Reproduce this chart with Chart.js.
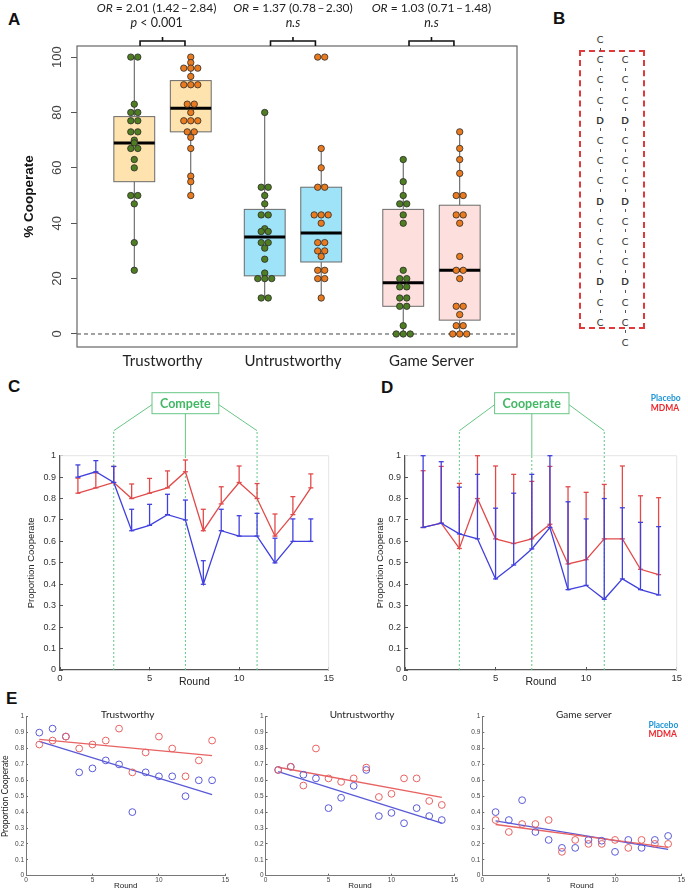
<!DOCTYPE html>
<html>
<head>
<meta charset="utf-8">
<script src="https://cdn.jsdelivr.net/npm/chart.js@4.4.0/dist/chart.umd.min.js"></script>
<style>
body { margin:0; width:688px; height:891px; background:#fff; position:relative; overflow:hidden; }
canvas { position:absolute; }
.plbl { position:absolute; font:bold 17px 'Liberation Sans', Arial, sans-serif; color:#111; }
</style>
</head>
<body>
<div class="plbl" style="left:8px;top:10px">A</div>
<div class="plbl" style="left:553px;top:9px">B</div>
<div class="plbl" style="left:8px;top:377px">C</div>
<div class="plbl" style="left:381px;top:378px">D</div>
<div class="plbl" style="left:6px;top:689px">E</div>
<canvas id="chartA" width="530" height="375" style="left:0;top:0"></canvas>
<canvas id="chartC" width="340" height="320" style="left:0;top:370px"></canvas>
<canvas id="chartD" width="348" height="320" style="left:340px;top:370px"></canvas>
<canvas id="chartE1" width="232" height="191" style="left:0;top:700px"></canvas>
<canvas id="chartE2" width="232" height="191" style="left:229px;top:700px"></canvas>
<canvas id="chartE3" width="230" height="191" style="left:458px;top:700px"></canvas>
<script>
// ---- panel A data (% cooperate per participant) ----
var groupNames = ["Trustworthy", "Untrustworthy", "Game Server"];
var placeboTrust = [100,100,83,80,80,77,77,73,73,70,69,67,67,63,60,50,50,47,33,23];
var mdmaTrust = [100,98,96,96,96,93,90,90,90,83,83,80,77,77,77,73,73,71,67,57,55,50];
var placeboUntrust = [80,53,53,50,47,43,43,38,37,37,33,33,31,27,22,20,20,20,13,13];
var mdmaUntrust = [100,100,67,60,53,53,43,43,43,40,33,33,30,30,28,23,23,20,20,13];
var placeboGame = [63,55,50,47,47,43,40,23,20,20,17,17,13,13,10,10,3,0,0,0];
var mdmaGame = [73,67,63,58,50,50,43,43,40,28,23,23,20,10,10,7,3,3,0,0,0];
// box stats: placebo/mdma for each group
var boxLo = [23, 50, 13, 13, 0, 0];
var boxQ1 = [55, 73, 21, 26, 10, 5];
var boxMed = [69, 81.5, 35, 36.5, 18.5, 23];
var boxQ3 = [78.5, 91.5, 45, 53, 45, 46.5];
var boxHi = [100, 100, 80, 67, 63, 73];
var yTicksA = [0, 20, 40, 60, 80, 100];
var orTexts = ["2.01 (1.42\u2009\u2013\u20092.84)", "1.37 (0.78\u2009\u2013\u20092.30)", "1.03 (0.71\u2009\u2013\u20091.48)"];
var sigTexts = [[["p", true], [" < 0.001", false]], [["n.s", true]], [["n.s", true]]];

// ---- panels C/D/E data (proportion cooperate per round) ----
var rounds = [1,2,3,4,5,6,7,8,9,10,11,12,13,14];
var phaseRounds = [3, 7, 11];
var roundTicks = [0, 5, 10, 15];
var propTicks = [0, 0.1, 0.2, 0.3, 0.4, 0.5, 0.6, 0.7, 0.8, 0.9, 1];

var trustBlue = [0.9,0.925,0.875,0.65,0.675,0.725,0.7,0.4,0.65,0.625,0.625,0.5,0.6,0.6];
var trustBlueUp = [0.957,0.977,0.95,0.75,0.773,0.82,0.793,0.51,0.75,0.72,0.731,0.615,0.705,0.705];
var trustRed = [0.825,0.85,0.875,0.8,0.825,0.85,0.925,0.65,0.775,0.875,0.8,0.625,0.725,0.85];
var trustRedUp = [0.895,0.92,0.95,0.868,0.894,0.929,0.98,0.75,0.855,0.952,0.87,0.728,0.809,0.915];

var untrustBlue = [0.665,0.685,0.635,0.612,0.425,0.49,0.565,0.665,0.375,0.395,0.33,0.425,0.375,0.35];
var untrustBlueUp = [1.0,0.972,0.853,0.913,0.755,0.825,0.913,1.0,0.785,0.705,0.8,0.757,0.689,0.669];
var untrustRed = [0.665,0.685,0.567,0.8,0.612,0.59,0.612,0.68,0.495,0.515,0.612,0.612,0.47,0.445];
var untrustRedUp = [0.93,0.95,0.871,1.0,0.952,0.913,0.88,0.95,0.855,0.829,0.866,0.952,0.813,0.804];

var gameBlue = [0.4,0.35,0.475,0.275,0.225,0.175,0.175,0.225,0.22,0.15,0.225,0.175,0.225,0.25];
var gameRed = [0.35,0.275,0.325,0.325,0.35,0.15,0.225,0.2,0.2,0.225,0.175,0.225,0.2,0.2];

// fitted trend lines (value at round 1 and round 14)
var fitRounds = [1, 14];
var trustBlueFit = [0.845, 0.51], trustRedFit = [0.857, 0.755];
var untrustBlueFit = [0.655, 0.33], untrustRedFit = [0.682, 0.493];
var gameBlueFit = [0.345, 0.165], gameRedFit = [0.322, 0.178];

// ---- layout / style ----
var groupPos = [1, 1.97, 3];
var pairOff = 0.21, boxHalf = 0.152, dotStep = 0.052;
var boxFill = ["#ffe3ae", "#ffe3ae", "#9fe3f8", "#9fe3f8", "#fde0dd", "#fde0dd"];
var greenDot = "#4f7d22", orangeDot = "#ea7a1e";
var blueC = "#4040de", redC = "#e24a4a";
var blueE = "#5a5ad8", redE = "#e86262";
var green = "#66c685", greenText = "#42b865";
var sans = "'Liberation Sans', Arial, sans-serif";

function swarm(values, center) {
  var counts = {}, seen = {};
  values.forEach(function (v) { counts[v] = (counts[v] || 0) + 1; });
  return values.map(function (v) {
    var k = seen[v] || 0; seen[v] = k + 1;
    return { x: center + (k - (counts[v] - 1) / 2) * dotStep, y: v };
  });
}
function pts(vals, xs) {
  xs = xs || rounds;
  return vals.map(function (v, i) { return { x: xs[i], y: v }; });
}
function seg(ctx, x1, y1, x2, y2) {
  ctx.beginPath(); ctx.moveTo(x1, y1); ctx.lineTo(x2, y2); ctx.stroke();
}
function richText(ctx, parts, cx, y, size) {
  var w = 0, widths = [];
  parts.forEach(function (p) {
    ctx.font = (p[1] ? "italic " : "") + size + "px Lato";
    var m = ctx.measureText(p[0]).width; widths.push(m); w += m;
  });
  var x = cx - w / 2;
  ctx.textAlign = "left"; ctx.textBaseline = "middle";
  parts.forEach(function (p, i) {
    ctx.font = (p[1] ? "italic " : "") + size + "px Lato";
    ctx.fillText(p[0], x, y); x += widths[i];
  });
}

Chart.defaults.font.family = sans;
Chart.defaults.color = "#333";

// ================= PANEL A =================
var boxPlugin = {
  id: "boxes",
  beforeDatasetsDraw: function (chart) {
    var ctx = chart.ctx, xs = chart.scales.x, ys = chart.scales.y, a = chart.chartArea;
    ctx.save();
    ctx.strokeStyle = "#444"; ctx.lineWidth = 1; ctx.setLineDash([4, 3]);
    var y0 = ys.getPixelForValue(0);
    seg(ctx, a.left, y0, a.right, y0);
    ctx.setLineDash([]);
    for (var i = 0; i < 6; i++) {
      var p = groupPos[Math.floor(i / 2)] + (i % 2 ? pairOff : -pairOff);
      var xc = xs.getPixelForValue(p), xl = xs.getPixelForValue(p - boxHalf), xr = xs.getPixelForValue(p + boxHalf);
      var yq1 = ys.getPixelForValue(boxQ1[i]), yq3 = ys.getPixelForValue(boxQ3[i]);
      ctx.strokeStyle = "#555"; ctx.lineWidth = 1;
      seg(ctx, xc, ys.getPixelForValue(boxLo[i]), xc, yq1);
      seg(ctx, xc, yq3, xc, ys.getPixelForValue(boxHi[i]));
      ctx.fillStyle = boxFill[i];
      ctx.fillRect(xl, yq3, xr - xl, yq1 - yq3);
      ctx.strokeStyle = "#6a6a6a";
      ctx.strokeRect(xl, yq3, xr - xl, yq1 - yq3);
      ctx.strokeStyle = "#000"; ctx.lineWidth = 3;
      var ym = ys.getPixelForValue(boxMed[i]);
      seg(ctx, xl, ym, xr, ym);
    }
    ctx.restore();
  },
  afterDraw: function (chart) {
    var ctx = chart.ctx, xs = chart.scales.x, ys = chart.scales.y, a = chart.chartArea;
    ctx.save();
    ctx.strokeStyle = "#666"; ctx.lineWidth = 1.2;
    ctx.strokeRect(a.left, a.top, a.right - a.left, a.bottom - a.top);
    // rotated y tick labels
    ctx.fillStyle = "#444"; ctx.font = "13px " + sans;
    ctx.textAlign = "center"; ctx.textBaseline = "middle";
    ys.ticks.forEach(function (t) {
      ctx.save();
      ctx.translate(a.left - 20, ys.getPixelForValue(t.value));
      ctx.rotate(-Math.PI / 2);
      ctx.fillText(String(t.value), 0, 0);
      ctx.restore();
    });
    // brackets and odds ratios
    ctx.strokeStyle = "#111"; ctx.lineWidth = 1.6; ctx.fillStyle = "#222";
    groupPos.forEach(function (g, i) {
      var x1 = xs.getPixelForValue(g - 0.167), x2 = xs.getPixelForValue(g + 0.167), xc = xs.getPixelForValue(g);
      var yb = a.top - 5;
      ctx.beginPath();
      ctx.moveTo(x1, a.top); ctx.lineTo(x1, yb); ctx.lineTo(x2, yb); ctx.lineTo(x2, a.top);
      ctx.moveTo(xc, yb); ctx.lineTo(xc, yb - 4);
      ctx.stroke();
      var tx = xc - (i === 0 ? 6 : 0);
      richText(ctx, [["OR", true], [" = " + orTexts[i], false]], tx, 8, 12);
      richText(ctx, sigTexts[i], tx, 23, 12.5);
    });
    ctx.restore();
  }
};

var aDatasets = [placeboTrust, mdmaTrust, placeboUntrust, mdmaUntrust, placeboGame, mdmaGame].map(function (vals, i) {
  var p = groupPos[Math.floor(i / 2)] + (i % 2 ? pairOff : -pairOff);
  return {
    data: swarm(vals, p),
    backgroundColor: i % 2 ? orangeDot : greenDot,
    borderColor: "#2b2b2b", borderWidth: 0.8, pointRadius: 3.2
  };
});

new Chart(document.getElementById("chartA"), {
  type: "scatter",
  data: { datasets: aDatasets },
  options: {
    responsive: false, animation: false,
    layout: { padding: { top: 46, right: 13, left: 0, bottom: 0 } },
    plugins: { legend: { display: false }, tooltip: { enabled: false } },
    scales: {
      x: {
        type: "linear", min: 0.364, max: 3.636,
        afterBuildTicks: function (s) { s.ticks = groupPos.map(function (v) { return { value: v }; }); },
        afterFit: function (s) { s.height = 28; },
        ticks: { callback: function (v, i) { return groupNames[i]; }, font: { family: "Lato", size: 15 }, color: "#222", padding: 5, autoSkip: false, maxRotation: 0 },
        grid: { display: false, drawTicks: false },
        border: { display: false }
      },
      y: {
        min: -4.7, max: 104,
        afterBuildTicks: function (s) { s.ticks = yTicksA.map(function (v) { return { value: v }; }); },
        afterFit: function (s) { s.width = 77; },
        ticks: { display: false },
        grid: { display: true, drawOnChartArea: false, tickLength: 6, color: "#555" },
        border: { display: false },
        title: { display: true, text: "% Cooperate", font: { size: 13.5, weight: "bold" }, color: "#111", padding: { top: 21, bottom: 0 } }
      }
    }
  },
  plugins: [boxPlugin]
});

// ================= PANEL B (sequence) =================
var seqLeft = "CCCCDCCCDCCCDCC", seqRight = "CCCDCCCDCCCDCCC";
(function () {
  var box = document.createElement("div");
  box.style.cssText = "position:absolute;left:579px;top:50px;width:62px;height:275px;border:2px dashed #e03a3a;";
  document.body.appendChild(box);
  function rowY(k) { return 39 + k * 20.2; }
  function put(seq, x, k0) {
    for (var i = 0; i < seq.length; i++) {
      var ch = seq[i], y = rowY(k0 + i);
      var d = document.createElement("div");
      d.textContent = ch;
      d.style.cssText = "position:absolute;width:12px;text-align:center;color:#333;";
      d.style.font = (ch === "D" ? "bold " : "") + "10px Lato";
      d.style.lineHeight = "12px";
      d.style.left = (x - 6) + "px"; d.style.top = (y - 6) + "px";
      document.body.appendChild(d);
      if (i < seq.length - 1) {
        var t = document.createElement("div");
        t.style.cssText = "position:absolute;width:1px;height:3px;background:#555;";
        t.style.left = x + "px"; t.style.top = (y + 8.6) + "px";
        document.body.appendChild(t);
      }
    }
  }
  put(seqLeft, 600, 0);
  put(seqRight, 625, 1);
})();

// ================= PANELS C / D =================
var errorPlugin = {
  id: "errbars",
  afterDatasetDraw: function (chart, args) {
    var ds = chart.data.datasets[args.index];
    if (!ds.errUp) return;
    var ctx = chart.ctx, xs = chart.scales.x, ys = chart.scales.y;
    ctx.save();
    ctx.strokeStyle = ds.borderColor; ctx.lineWidth = 1.3;
    ds.data.forEach(function (p, i) {
      var x = xs.getPixelForValue(p.x), y0 = ys.getPixelForValue(p.y), y1 = ys.getPixelForValue(ds.errUp[i]);
      seg(ctx, x, y0, x, y1);
      seg(ctx, x - 2.5, y1, x + 2.5, y1);
      seg(ctx, x - 2.5, y0, x + 2.5, y0);
    });
    ctx.restore();
  }
};

function phasePlugin(label, legend) {
  return {
    id: "phase",
    beforeDatasetsDraw: function (chart) {
      var ctx = chart.ctx, xs = chart.scales.x, ys = chart.scales.y, a = chart.chartArea;
      var px = phaseRounds.map(function (r) { return xs.getPixelForValue(r); });
      var topV = a.top - 25, boxT = a.top - 63, boxB = a.top - 42;
      ctx.save();
      // faint frame on top / right
      ctx.strokeStyle = "#e4e4e4"; ctx.lineWidth = 1;
      seg(ctx, a.left, a.top, a.right, a.top);
      seg(ctx, a.right, a.top, a.right, a.bottom);
      ctx.font = "bold 12.5px Lato";
      var tw = ctx.measureText(label).width + 16;
      var bl = px[1] - tw / 2, br = px[1] + tw / 2;
      ctx.strokeStyle = green; ctx.lineWidth = 1;
      ctx.setLineDash([2, 2]);
      seg(ctx, px[0], a.bottom, px[0], topV);
      seg(ctx, px[2], a.bottom, px[2], topV);
      seg(ctx, px[1], a.bottom, px[1], a.top);
      ctx.setLineDash([]);
      seg(ctx, px[1], a.top, px[1], boxB);
      seg(ctx, px[0], topV, bl, a.top - 51);
      seg(ctx, px[2], topV, br, a.top - 51);
      ctx.strokeRect(bl, boxT, tw, boxB - boxT);
      ctx.fillStyle = greenText; ctx.textAlign = "center"; ctx.textBaseline = "middle";
      ctx.fillText(label, px[1], (boxT + boxB) / 2 + 0.5);
      if (legend) {
        ctx.font = "bold 8.5px Lato"; ctx.textAlign = "left";
        ctx.fillStyle = "#1f95d6"; ctx.fillText("Placebo", a.right - 26, a.top - 57);
        ctx.fillStyle = "#ea2a2f"; ctx.fillText("MDMA", a.right - 26, a.top - 47);
      }
      ctx.restore();
    }
  };
}

function roundChart(id, W, H, area, blue, blueUp, red, redUp, label, titlePad, legend) {
  return new Chart(document.getElementById(id), {
    type: "scatter",
    data: {
      datasets: [
        { data: pts(blue), errUp: blueUp, showLine: true, borderColor: blueC, borderWidth: 1.3, pointRadius: 0 },
        { data: pts(red), errUp: redUp, showLine: true, borderColor: redC, borderWidth: 1.3, pointRadius: 0 }
      ]
    },
    options: {
      responsive: false, animation: false,
      layout: { padding: { top: area.top, right: W - area.right, left: 0, bottom: 0 } },
      plugins: { legend: { display: false }, tooltip: { enabled: false } },
      scales: {
        x: {
          type: "linear", min: 0, max: 15,
          afterBuildTicks: function (s) { s.ticks = roundTicks.map(function (v) { return { value: v }; }); },
          afterFit: function (s) { s.height = H - area.bottom; },
          ticks: { font: { size: 9.5 }, color: "#333", padding: 6, maxRotation: 0 },
          grid: { display: true, drawOnChartArea: false, tickLength: -3, color: "#555" },
          border: { color: "#555", width: 1.3 },
          title: { display: true, text: "Round", font: { size: 10.5 }, color: "#222", padding: { top: 0, bottom: 2 } }
        },
        y: {
          min: 0, max: 1,
          afterBuildTicks: function (s) { s.ticks = propTicks.map(function (v) { return { value: v }; }); },
          afterFit: function (s) { s.width = area.left; },
          ticks: { font: { size: 9 }, color: "#333", padding: 7, callback: function (v) { return String(+v.toFixed(2)); } },
          grid: { display: true, drawOnChartArea: false, tickLength: -3, color: "#555" },
          border: { color: "#555", width: 1.3 },
          title: { display: true, text: "Proportion Cooperate", font: { size: 9.5 }, color: "#222", padding: { top: titlePad, bottom: 0 } }
        }
      }
    },
    plugins: [phasePlugin(label, legend), errorPlugin]
  });
}

roundChart("chartC", 340, 320, { left: 60, right: 333, top: 85.7, bottom: 300 },
  trustBlue, trustBlueUp, trustRed, trustRedUp, "Compete", 26, false);
roundChart("chartD", 348, 320, { left: 65, right: 339, top: 85.7, bottom: 300 },
  untrustBlue, untrustBlueUp, untrustRed, untrustRedUp, "Cooperate", 35, true);

// ================= PANEL E =================
function eTitlePlugin(title, legend) {
  return {
    id: "etitle",
    afterDraw: function (chart) {
      var ctx = chart.ctx, a = chart.chartArea;
      ctx.save();
      ctx.fillStyle = "#222"; ctx.font = "10px Lato";
      ctx.textAlign = "center"; ctx.textBaseline = "middle";
      ctx.fillText(title, (a.left + a.right) / 2 + 2, a.top - 1.5);
      if (legend) {
        ctx.font = "bold 8.5px Lato"; ctx.textAlign = "left";
        ctx.fillStyle = "#1f95d6"; ctx.fillText("Placebo", a.right - 33, a.top + 8.5);
        ctx.fillStyle = "#ea2a2f"; ctx.fillText("MDMA", a.right - 33, a.top + 17.5);
      }
      ctx.restore();
    }
  };
}

function fitChart(id, W, H, area, title, blue, red, blueFit, redFit, yTitle, legend) {
  return new Chart(document.getElementById(id), {
    type: "scatter",
    data: {
      datasets: [
        { data: pts(red), pointRadius: 3.4, pointBackgroundColor: "rgba(0,0,0,0)", pointBorderColor: redE, pointBorderWidth: 1 },
        { data: pts(blue), pointRadius: 3.4, pointBackgroundColor: "rgba(0,0,0,0)", pointBorderColor: blueE, pointBorderWidth: 1 },
        { data: pts(redFit, fitRounds), showLine: true, pointRadius: 0, borderColor: redE, borderWidth: 1.3 },
        { data: pts(blueFit, fitRounds), showLine: true, pointRadius: 0, borderColor: blueE, borderWidth: 1.3 }
      ]
    },
    options: {
      responsive: false, animation: false,
      layout: { padding: { top: area.top, right: W - area.right, left: 0, bottom: 0 } },
      plugins: { legend: { display: false }, tooltip: { enabled: false } },
      scales: {
        x: {
          type: "linear", min: 0, max: 15,
          afterBuildTicks: function (s) { s.ticks = roundTicks.map(function (v) { return { value: v }; }); },
          afterFit: function (s) { s.height = H - area.bottom; },
          ticks: { font: { size: 6.5 }, color: "#444", padding: 3, maxRotation: 0 },
          grid: { display: true, drawOnChartArea: false, tickLength: -2, color: "#666" },
          border: { color: "#777", width: 1 },
          title: { display: true, text: "Round", font: { size: 8 }, color: "#222", padding: { top: 0, bottom: 0 } }
        },
        y: {
          min: 0, max: 1,
          afterBuildTicks: function (s) { s.ticks = propTicks.map(function (v) { return { value: v }; }); },
          afterFit: function (s) { s.width = area.left; },
          ticks: { font: { size: 6.5 }, color: "#444", padding: 4, callback: function (v) { return String(+v.toFixed(2)); } },
          grid: { display: true, drawOnChartArea: false, tickLength: -2, color: "#666" },
          border: { color: "#777", width: 1 },
          title: { display: yTitle, text: "Proportion Cooperate", font: { family: "Lato", size: 8.5 }, color: "#222", padding: { top: 0, bottom: 0 } }
        }
      }
    },
    plugins: [eTitlePlugin(title, legend)]
  });
}

fitChart("chartE1", 232, 191, { left: 26, right: 227.7, top: 16.7, bottom: 175.7 },
  "Trustworthy", trustBlue, trustRed, trustBlueFit, trustRedFit, true, false);
fitChart("chartE2", 232, 191, { left: 36.6, right: 226.6, top: 16.7, bottom: 175.7 },
  "Untrustworthy", untrustBlue, untrustRed, untrustBlueFit, untrustRedFit, false, false);
fitChart("chartE3", 230, 191, { left: 24.3, right: 225.3, top: 16.7, bottom: 175.7 },
  "Game server", gameBlue, gameRed, gameBlueFit, gameRedFit, false, true);
</script>
</body>
</html>
